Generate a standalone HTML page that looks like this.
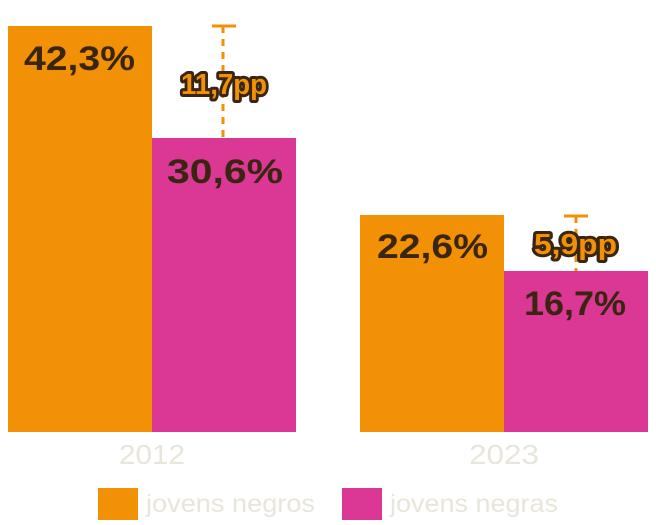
<!DOCTYPE html>
<html><head><meta charset="utf-8"><style>html,body{margin:0;padding:0;background:#fff}</style></head>
<body>
<svg width="656" height="520" viewBox="0 0 656 520" xmlns="http://www.w3.org/2000/svg" font-family="Liberation Sans, sans-serif">
<rect x="8" y="26" width="144" height="406" fill="#f29106"/>
<rect x="152" y="138" width="144" height="294" fill="#db3794"/>
<rect x="360" y="215" width="144" height="217" fill="#f29106"/>
<rect x="504" y="271" width="144" height="161" fill="#db3794"/>
<g fill="#3a2510" font-weight="bold" font-size="34" lengthAdjust="spacingAndGlyphs">
<text x="24" y="70" textLength="111" lengthAdjust="spacingAndGlyphs">42,3%</text>
<text x="167" y="183" textLength="116" lengthAdjust="spacingAndGlyphs">30,6%</text>
<text x="377" y="258" textLength="111" lengthAdjust="spacingAndGlyphs">22,6%</text>
<text x="524" y="315" textLength="102" lengthAdjust="spacingAndGlyphs">16,7%</text>
</g>
<g stroke="#f29106" stroke-width="3">
<line x1="212" y1="26" x2="236" y2="26"/>
<line x1="223" y1="26" x2="223" y2="138" stroke-dasharray="7,6"/>
<line x1="564" y1="216" x2="588" y2="216"/>
<line x1="576" y1="216" x2="576" y2="271" stroke-dasharray="7,6"/>
</g>
<g font-weight="bold" font-size="29" fill="#f29106" stroke="#3a2510" stroke-width="6" stroke-linejoin="round" paint-order="stroke">
<text x="181" y="94" textLength="86" lengthAdjust="spacingAndGlyphs">11,7pp</text>
<text x="534" y="254" textLength="83" lengthAdjust="spacingAndGlyphs">5,9pp</text>
</g>
<g fill="#e8e6da" font-size="28">
<text x="119" y="464" textLength="66" lengthAdjust="spacingAndGlyphs">2012</text>
<text x="469" y="464" textLength="70" lengthAdjust="spacingAndGlyphs">2023</text>
</g>
<rect x="98" y="488" width="40" height="32" fill="#f29106"/>
<rect x="342" y="488" width="40" height="32" fill="#db3794"/>
<g fill="#e8e6da" font-size="25">
<text x="146" y="512" textLength="169" lengthAdjust="spacingAndGlyphs">jovens negros</text>
<text x="390" y="512" textLength="168" lengthAdjust="spacingAndGlyphs">jovens negras</text>
</g>
</svg>
</body></html>
